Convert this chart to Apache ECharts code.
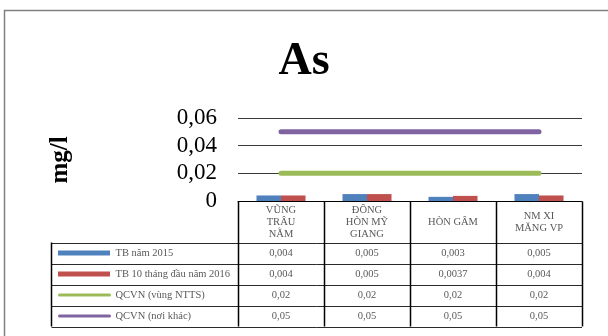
<!DOCTYPE html>
<html><head><meta charset="utf-8">
<script src="https://cdn.jsdelivr.net/npm/echarts@6/dist/echarts.min.js"></script>
<style>html,body{margin:0;padding:0;background:#fff}#c{width:608px;height:336px}</style>
</head><body><div id="c"></div>
<script>
const categories = ['VŨNG\nTRÂU\nNẰM', 'ĐÔNG\nHÒN MỸ\nGIANG', 'HÒN GÂM', 'NM XI\nMĂNG VP'];
const tb2015 = [0.004, 0.005, 0.003, 0.005];
const tb2016 = [0.004, 0.005, 0.0037, 0.004];
const qcvnNTTS = [0.02, 0.02, 0.02, 0.02];
const qcvnOther = [0.05, 0.05, 0.05, 0.05];
const yTicks = [0, 0.02, 0.04, 0.06];
const seriesNames = ['TB năm 2015', 'TB 10 tháng đầu năm 2016', 'QCVN (vùng NTTS)', 'QCVN (nơi khác)'];
const titleText = 'As';
const yName = 'mg/l';

const colors = ['#4F81BD', '#C0504D', '#9BBB59', '#8064A2'];
const seriesData = [tb2015, tb2016, qcvnNTTS, qcvnOther];
const seriesKind = ['bar', 'bar', 'line', 'line'];
const fmt = v => String(v).replace('.', ',');
const serif = '"Liberation Serif", "Times New Roman", serif';

const chart = echarts.init(document.getElementById('c'), null, {renderer: 'canvas'});
chart.setOption({
  animation: false,
  title: {text: titleText, left: 'center', top: 34,
    textStyle: {fontFamily: serif, fontSize: 46, fontWeight: 'bold', color: '#000'}},
  grid: {left: 238, right: 26, top: 118, bottom: 135, containLabel: false},
  xAxis: {type: 'category', data: categories,
    axisLine: {show: true, lineStyle: {color: '#000', width: 1}},
    axisTick: {show: false}, axisLabel: {show: false}, splitLine: {show: false}},
  yAxis: {type: 'value', min: yTicks[0], max: yTicks[yTicks.length - 1], interval: yTicks[1] - yTicks[0],
    axisLine: {show: false}, axisTick: {show: false},
    axisLabel: {formatter: v => fmt(+v.toFixed(4)), fontFamily: serif, fontSize: 23, color: '#000', margin: 21},
    splitLine: {show: true, lineStyle: {color: '#3a3a3a', width: 1}}},
  series: seriesNames.map((n, i) => seriesKind[i] === 'bar' ? {
    name: n, type: 'bar', data: seriesData[i], barGap: '0%', barCategoryGap: '43%',
    itemStyle: {color: colors[i]}
  } : {
    name: n, type: 'line', data: seriesData[i], symbol: 'none', z: 3,
    lineStyle: {color: colors[i], width: 5, cap: 'round'}, itemStyle: {color: colors[i]}
  })
});

function drawTable() {
  const x0 = chart.convertToPixel({xAxisIndex: 0}, 0);
  const x1 = chart.convertToPixel({xAxisIndex: 0}, 1);
  const colW = x1 - x0;
  const left = x0 - colW / 2;
  const n = categories.length;
  const right = left + colW * n;
  const yTop = Math.round(chart.convertToPixel({yAxisIndex: 0}, 0)) + 0.5;
  const headerH = 41, rowH = 21;
  const tableLeft = 51.5;
  const g = [];
  g.push({type: 'rect', silent: true, z: -10,
    shape: {x: 4.5, y: 10.5, width: 800, height: 500},
    style: {fill: 'none', stroke: '#808080', lineWidth: 1.5}});
  const rowsTop = yTop + headerH;
  const bottom = rowsTop + rowH * seriesNames.length;
  for (let r = 0; r <= seriesNames.length; r++) {
    const y = Math.round(rowsTop + r * rowH) + 0.5;
    g.push({type: 'line', silent: true, shape: {x1: tableLeft, y1: y, x2: right, y2: y},
      style: {stroke: '#2a2a2a', lineWidth: 1}});
  }
  g.push({type: 'line', silent: true, shape: {x1: tableLeft, y1: rowsTop, x2: tableLeft, y2: bottom},
    style: {stroke: '#000', lineWidth: 1.5}});
  for (let c = 0; c <= n; c++) {
    const x = Math.round(left + c * colW) + 0.5;
    g.push({type: 'line', silent: true, shape: {x1: x, y1: yTop, x2: x, y2: bottom},
      style: {stroke: '#000', lineWidth: 1.5}});
  }
  for (let c = 0; c < n; c++) {
    g.push({type: 'text', silent: true, x: left + (c + 0.5) * colW, y: yTop + headerH / 2,
      style: {text: categories[c], align: 'center', verticalAlign: 'middle', fontFamily: serif,
        fontSize: 10.5, lineHeight: 12, fill: '#595959'}});
  }
  seriesNames.forEach((name, r) => {
    const cy = rowsTop + r * rowH + rowH / 2;
    if (seriesKind[r] === 'bar') {
      g.push({type: 'rect', silent: true, shape: {x: tableLeft + 6.5, y: cy - 2.5, width: 52, height: 5},
        style: {fill: colors[r]}});
    } else {
      g.push({type: 'line', silent: true, shape: {x1: tableLeft + 8, y1: cy, x2: tableLeft + 58, y2: cy},
        style: {stroke: colors[r], lineWidth: 3, lineCap: 'round'}});
    }
    g.push({type: 'text', silent: true, x: tableLeft + 64, y: cy,
      style: {text: name, align: 'left', verticalAlign: 'middle', fontFamily: serif, fontSize: 10.5, fill: '#595959'}});
    seriesData[r].forEach((v, c) => {
      g.push({type: 'text', silent: true, x: left + (c + 0.5) * colW, y: cy,
        style: {text: fmt(v), align: 'center', verticalAlign: 'middle', fontFamily: serif, fontSize: 10.5, fill: '#595959'}});
    });
  });
  g.push({type: 'text', silent: true, x: 61, y: 160, rotation: Math.PI / 2,
    style: {text: yName, align: 'center', verticalAlign: 'middle', fontFamily: serif, fontSize: 25,
      fontWeight: 'bold', fill: '#000'}});
  chart.setOption({graphic: g});
}
drawTable();
</script>
</body></html>
